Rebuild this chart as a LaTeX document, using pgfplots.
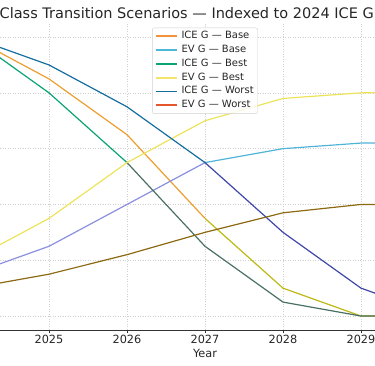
\documentclass[border=0pt]{standalone}
\usepackage{pgfplots}
\pgfplotsset{compat=1.18}
\usepackage{fontspec}
\setmainfont{DejaVu Sans}
\definecolor{txt}{HTML}{262626}
\definecolor{gridc}{HTML}{D0D0D0}
\definecolor{spine}{HTML}{333333}
% legend colours
\definecolor{lICEbase}{HTML}{F0933C}
\definecolor{lEVbase}{HTML}{4CB8DC}
\definecolor{lICEbest}{HTML}{0AA374}
\definecolor{lEVbest}{HTML}{F5E46A}
\definecolor{lICEworst}{HTML}{136E9C}
\definecolor{lEVworst}{HTML}{E4572E}
% line colours as drawn
\definecolor{cICEbaseA}{HTML}{EE9E30}
\definecolor{cICEbaseB}{HTML}{BDB814}
\definecolor{cEVbaseA}{HTML}{8A8FE0}
\definecolor{cEVbaseB}{HTML}{50B4D8}
\definecolor{cICEbestA}{HTML}{0AA374}
\definecolor{cICEbestB}{HTML}{4A7064}
\definecolor{cEVbest}{HTML}{EDE35A}
\definecolor{cICEworstA}{HTML}{146EA0}
\definecolor{cICEworstB}{HTML}{3F47A8}
\definecolor{cEVworst}{HTML}{8C6A14}
\pgfplotsset{
  legend image code/.code={\draw[#1,line width=1.7pt] (0pt,0pt) -- (21pt,0pt);},
}
\begin{document}
\begin{tikzpicture}
\useasboundingbox (0,0) rectangle (375pt,366pt);
\clip (0,0) rectangle (375pt,366pt);
\begin{axis}[
  at={(-52.4pt,36pt)}, anchor=south west,
  scale only axis, width=514.8pt, height=306.9pt,
  xmin=2023.7, xmax=2030.3, ymin=-5, ymax=105,
  xtick={2024,2025,2026,2027,2028,2029,2030},
  xticklabels={2024,2025,2026,2027,2028,2029,2030},
  ytick={0,20,40,60,80,100},
  /pgf/number format/assume math mode=true,
  axis x line=bottom, axis y line=left,
  axis line style={-, draw=spine, line width=0.8pt},
  tick align=outside, major tick length=3.5pt,
  tick style={draw=spine, line width=0.8pt},
  ticklabel style={font=\fontsize{11.3}{13}\selectfont, text=txt},
  xticklabel style={inner sep=0pt, yshift=-1pt},
  grid=major,
  major grid style={draw=gridc, line width=0.6pt, dash pattern=on 1pt off 1.5pt},
  xlabel={Year},
  xlabel style={at={(axis description cs:0.5,0)}, anchor=north, inner sep=0pt, yshift=-18.7pt, font=\fontsize{11.3}{13}\selectfont, text=txt},
  legend style={at={(0.5,0.985)}, anchor=north, draw=gridc, fill=white, fill opacity=0.85, text opacity=1, draw opacity=1,
    rounded corners=2pt, font=\fontsize{10}{12}\selectfont, text=txt,
    inner xsep=2.5pt, inner ysep=1.8pt, row sep=0.6pt, column sep=2.5pt,
    nodes={fill=none, inner sep=1.5pt, text height=7.6pt, text depth=2.6pt}},
  legend cell align=left,
  every axis plot/.append style={line width=1.2pt, line join=round},
]
\addlegendimage{lICEbase}\addlegendentry{ICE G — Base}
\addlegendimage{lEVbase}\addlegendentry{EV G — Base}
\addlegendimage{lICEbest}\addlegendentry{ICE G — Best}
\addlegendimage{lEVbest}\addlegendentry{EV G — Best}
\addlegendimage{lICEworst}\addlegendentry{ICE G — Worst}
\addlegendimage{lEVworst}\addlegendentry{EV G — Worst}
% ICE G - Base
\addplot[cICEbaseA, forget plot] coordinates {(2024,100)(2025,85)(2026,65)(2027,35)};
\addplot[cICEbaseB, forget plot] coordinates {(2027,35)(2028,10)(2029,0)(2030,0)};
% EV G - Base
\addplot[cEVbaseA, forget plot] coordinates {(2024,15)(2025,25)(2026,40)(2027,55)};
\addplot[cEVbaseB, forget plot] coordinates {(2027,55)(2028,60)(2029,62)(2030,62)};
% ICE G - Best
\addplot[cICEbestA, forget plot] coordinates {(2024,100)(2025,80)(2026,55)};
\addplot[cICEbestB, forget plot] coordinates {(2026,55)(2027,25)(2028,5)(2029,0)(2030,0)};
% EV G - Best
\addplot[cEVbest, forget plot] coordinates {(2024,20)(2025,35)(2026,55)(2027,70)(2028,78)(2029,80)(2030,80)};
% ICE G - Worst
\addplot[cICEworstA, forget plot] coordinates {(2024,100)(2025,90)(2026,75)(2027,55)};
\addplot[cICEworstB, forget plot] coordinates {(2027,55)(2028,30)(2029,10)(2030,0)};
% EV G - Worst
\addplot[cEVworst, forget plot] coordinates {(2024,10)(2025,15)(2026,22)(2027,30)(2028,37)(2029,40)(2030,40)};
\end{axis}
\node[anchor=base west, inner sep=0pt, font=\fontsize{14.5}{17}\selectfont, text=txt] at (-0.5pt,347.7pt) {Class Transition Scenarios — Indexed to 2024 ICE G};
\end{tikzpicture}
\end{document}
